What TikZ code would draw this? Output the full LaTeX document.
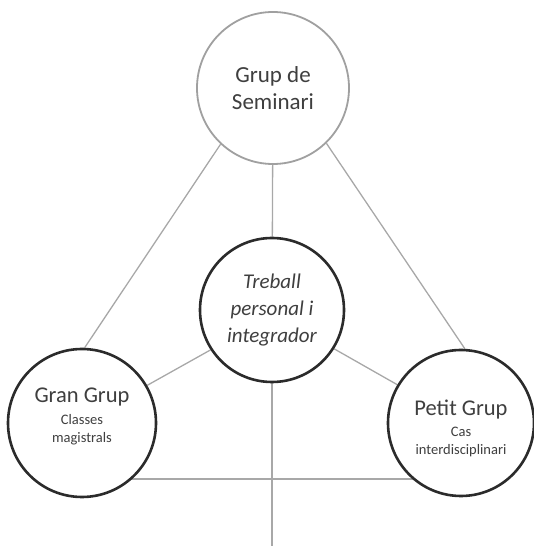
\documentclass[tikz,border=0pt]{standalone}
\usepackage{fontspec}
\setmainfont{Carlito}
\usetikzlibrary{backgrounds}
\definecolor{txt}{HTML}{3F3F3F}
\definecolor{lightring}{HTML}{A0A0A0}
\definecolor{darkring}{HTML}{2B2B2B}
\definecolor{conn}{HTML}{A8A8A8}
\tikzset{
  ring/.style={circle, draw=darkring, line width=2.6pt, fill=white, inner sep=0pt, align=center, text=txt},
  lightringstyle/.style={circle, draw=lightring, line width=1.8pt, fill=white, inner sep=0pt, align=center, text=txt},
  link/.style={draw=conn, line width=1.3pt},
  small/.style={font=\fontsize{14.5}{18}\selectfont},
}
\newcommand{\bigtxt}[1]{{\fontsize{22.5}{24}\selectfont #1}}
\begin{document}
\begin{tikzpicture}[x=1pt,y=1pt]
\useasboundingbox (0,0) rectangle (533,546);
\node[lightringstyle, font=\fontsize{23}{27}\selectfont, minimum size=152pt] (top) at (273,458) {Grup de\\Seminari};
\node[ring, minimum size=144pt, font=\fontsize{21}{27}\selectfont\itshape] (mid) at (272,236) {Treball\\personal i\\integrador};
\node[ring, small, minimum size=148pt] (gran) at (82,123) {\bigtxt{Gran Grup}\\[4pt]Classes\\magistrals\rule[-16pt]{0pt}{16pt}};
\node[ring, small, minimum size=146pt] (petit) at (461,123) {\rule{0pt}{26pt}\bigtxt{Petit Grup}\\[3pt]Cas\\interdisciplinari};
\coordinate (hline) at (272,67);
\coordinate (bottom) at (272,0);
\begin{pgfonlayer}{background}
\draw[link] (top.227) -- (gran.88);
\draw[link] (top.314) -- (petit.87);
\draw[link] (top) -- (mid);
\draw[link] (mid.213) -- (gran.30);
\draw[link] (mid.328) -- (petit.149);
\draw[link] (hline -| gran.center) -- (hline -| petit.center);
\draw[link] (mid) -- (bottom);
\end{pgfonlayer}
\end{tikzpicture}
\end{document}
